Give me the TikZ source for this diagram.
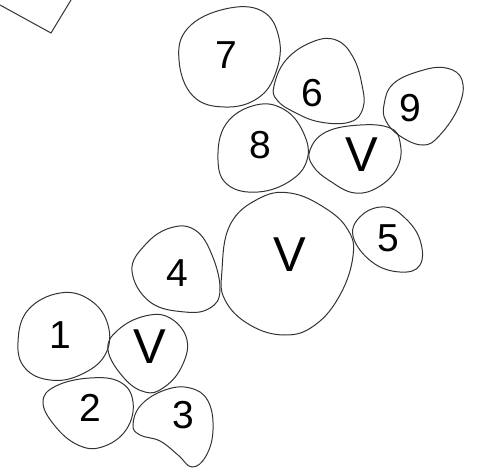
\documentclass[tikz,border=0pt]{standalone}
\usepackage{fontspec}
\setmainfont{Liberation Sans}
\begin{document}
\begin{tikzpicture}[x=1pt,y=-1pt,
  blob/.style={draw=black!80,line width=1pt},
  num/.style={font=\fontsize{39}{41}\selectfont,inner sep=0pt},
  vlab/.style={font=\fontsize{49}{51}\selectfont,inner sep=0pt}]
\useasboundingbox (0,0) rectangle (477,474);
% partial shape top-left
\coordinate (pa) at (0,5);
\coordinate (pb) at (51,33);
\coordinate (pc) at (71,0);
\draw[blob] (pa) -- (pb) -- (pc);
% blob 7
\draw[blob] plot[smooth cycle,tension=0.7] coordinates {(179,60) (188,28) (225,9) (262,11) (279,38) (276,72) (258,98) (225,107) (193,96)};
\node[num] (n7) at (226,55) {7};
% blob 6
\draw[blob] plot[smooth cycle,tension=0.7] coordinates {(274,86) (286,60) (312,42) (336,40) (353,57) (362,85) (363,108) (350,122) (320,122) (294,112) (277,100)};
\node[num] (n6) at (312,93) {6};
% blob 9
\draw[blob] plot[smooth cycle,tension=0.7] coordinates {(384,105) (393,84) (420,71) (446,68) (462,80) (459,106) (440,135) (423,145) (400,136) (386,121)};
\node[num] (n9) at (410,108) {9};
% blob 8
\draw[blob] plot[smooth cycle,tension=0.7] coordinates {(218,160) (226,124) (256,105) (285,110) (304,134) (307,160) (290,181) (258,192) (228,185)};
\node[num] (n8) at (260,145) {8};
% blob V upper
\draw[blob] plot[smooth cycle,tension=0.7] coordinates {(310,150) (326,132) (360,125) (390,128) (400,142) (398,166) (380,186) (355,193) (330,181) (313,166)};
\node[vlab] (v1) at (362,155) {V};
% big V
\draw[blob] plot[smooth cycle,tension=0.7] coordinates {(222,270) (230,225) (258,199) (290,193) (325,208) (348,230) (353,256) (340,295) (315,325) (285,335) (250,325) (225,300)};
\node[vlab] (v2) at (290,255) {V};
% blob 4
\draw[blob] plot[smooth cycle,tension=0.7] coordinates {(132,271) (145,245) (170,228) (195,230) (212,255) (220,290) (210,308) (185,312) (150,302)};
\node[num] (n4) at (177,273) {4};
% blob 5
\draw[blob] plot[smooth cycle,tension=0.7] coordinates {(353,236) (362,215) (385,207) (405,218) (420,240) (420,265) (400,272) (372,262)};
\node[num] (n5) at (388,238) {5};
% blob 1
\draw[blob] plot[smooth cycle,tension=0.7] coordinates {(18,342) (28,310) (60,293) (90,300) (108,325) (105,355) (80,375) (50,380) (25,368)};
\node[num] (n1) at (60,335) {1};
% blob V lower
\draw[blob] plot[smooth cycle,tension=0.7] coordinates {(108,350) (118,330) (145,316) (170,318) (187,340) (181,368) (163,388) (145,392) (124,378)};
\node[vlab] (v3) at (150,347) {V};
% blob 2
\draw[blob] plot[smooth cycle,tension=0.7] coordinates {(43,402) (56,386) (90,378) (120,382) (133,402) (126,430) (102,447) (78,445) (55,426)};
\node[num] (n2) at (90,408) {2};
% blob 3
\draw[blob] plot[smooth cycle,tension=0.7] coordinates {(133,425) (141,405) (165,390) (190,388) (208,401) (213,430) (206,456) (192,467) (178,455) (160,441) (140,435)};
\node[num] (n3) at (183,415) {3};
\end{tikzpicture}
\end{document}
